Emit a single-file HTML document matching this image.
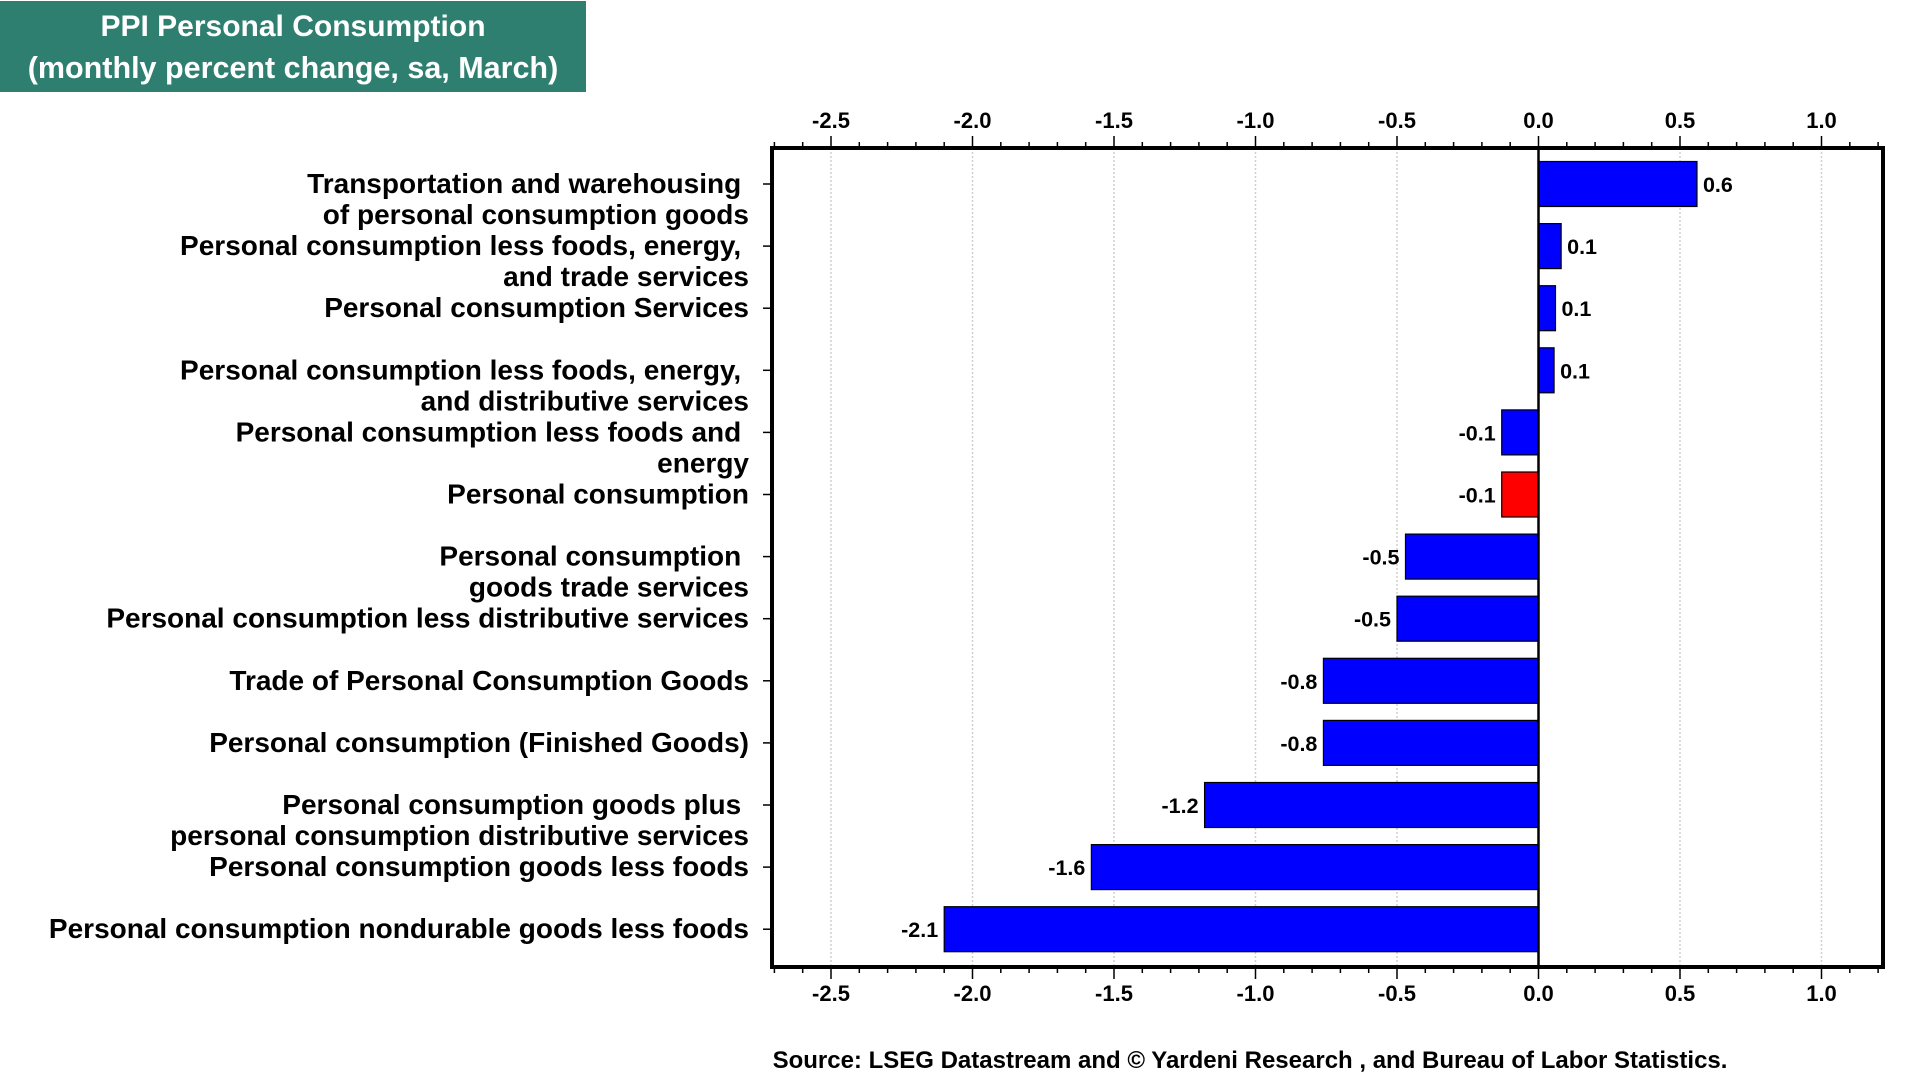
<!DOCTYPE html>
<html><head><meta charset="utf-8"><style>
html,body{margin:0;padding:0;background:#fff;width:1920px;height:1080px;overflow:hidden;font-family:"Liberation Sans",Arial,sans-serif}
text{white-space:pre}
</style></head><body>
<svg width="1920" height="1080" xmlns="http://www.w3.org/2000/svg" id="chart" font-family="Liberation Sans, Arial, sans-serif" font-weight="bold">
<g>
<rect x="0" y="1" width="586" height="91" fill="#2e7f70"/>
<text x="293" y="36" text-anchor="middle" font-size="30" fill="#fff">PPI Personal Consumption</text>
<text x="293" y="78" text-anchor="middle" font-size="30.5" fill="#fff">(monthly percent change, sa, March)</text>
</g>
<g id="grid"></g>
<g id="bars"></g>
<g id="axes"></g>
<text x="1250" y="1068" text-anchor="middle" font-size="24" fill="#000">Source: LSEG Datastream and © Yardeni Research , and Bureau of Labor Statistics.</text>
</svg>
<script>
const categories = [
 ["Transportation and warehousing ","of personal consumption goods"],
 ["Personal consumption less foods, energy, ","and trade services"],
 ["Personal consumption Services"],
 ["Personal consumption less foods, energy, ","and distributive services"],
 ["Personal consumption less foods and ","energy"],
 ["Personal consumption"],
 ["Personal consumption ","goods trade services"],
 ["Personal consumption less distributive services"],
 ["Trade of Personal Consumption Goods"],
 ["Personal consumption (Finished Goods)"],
 ["Personal consumption goods plus ","personal consumption distributive services"],
 ["Personal consumption goods less foods"],
 ["Personal consumption nondurable goods less foods"]
];
const values = [0.56, 0.08, 0.06, 0.055, -0.13, -0.13, -0.47, -0.5, -0.76, -0.76, -1.18, -1.58, -2.1];
const valueLabels = ["0.6","0.1","0.1","0.1","-0.1","-0.1","-0.5","-0.5","-0.8","-0.8","-1.2","-1.6","-2.1"];
const highlight = [false,false,false,false,false,true,false,false,false,false,false,false,false];
const tickValues = [-2.5,-2.0,-1.5,-1.0,-0.5,0.0,0.5,1.0];
const tickLabels = ["-2.5","-2.0","-1.5","-1.0","-0.5","0.0","0.5","1.0"];

const NS="http://www.w3.org/2000/svg";
const L=772,R=1883,T=148,B=967;
const x=v=>1538.5+v*283;
const y=i=>184+i*62.1;
const BH=45;
function mk(tag,attrs,parent){const e=document.createElementNS(NS,tag);for(const k in attrs)e.setAttribute(k,attrs[k]);parent.appendChild(e);return e;}
const grid=document.getElementById('grid'),bars=document.getElementById('bars'),axes=document.getElementById('axes');
tickValues.forEach(v=>{
 const g=mk('line',{x1:x(v),x2:x(v),y1:T,y2:B,stroke:'#cfcfcf','stroke-width':1.5,'stroke-dasharray':'2,2'},grid);
 
 
});
values.forEach((v,i)=>{
 const x0=Math.min(x(0),x(v)),w=Math.abs(x(v)-x(0));
 const r=mk('rect',{x:x0,y:y(i)-BH/2,width:w,height:BH,fill:highlight[i]?'#ff0000':'#0000ff',stroke:'#000','stroke-width':1.2},bars);
 
 
 const t=mk('text',{x:v>=0?x(v)+6:x(v)-6,y:y(i)+8,'font-size':21.5,'text-anchor':v>=0?'start':'end',fill:'#000'},bars);
 t.textContent=valueLabels[i];
 
 
 const lines=categories[i];
 lines.forEach((s,j)=>{
  const c=mk('text',{x:749,y:y(i)+9+j*31,'font-size':28,'text-anchor':'end',fill:'#000'},axes);
  c.textContent=s;
  
  
 });
 mk('line',{x1:L-9,x2:L,y1:y(i),y2:y(i),stroke:'#000','stroke-width':1.5},axes);
});
mk('line',{x1:x(0),x2:x(0),y1:T,y2:B,stroke:'#000','stroke-width':2.5},axes);
for(let k=-27;k<=12;k++){
 const v=k/10;const major=(k%5===0);
 const px=x(v); if(px<L||px>R)continue;
 mk('line',{x1:px,x2:px,y1:T-(major?12:6),y2:T,stroke:'#000','stroke-width':1.5},axes);
 mk('line',{x1:px,x2:px,y1:B,y2:B+(major?12:6),stroke:'#000','stroke-width':1.5},axes);
}
tickValues.forEach((v,i)=>{
 const a=mk('text',{x:x(v),y:128,'font-size':22,'text-anchor':'middle',fill:'#000'},axes);
 a.textContent=tickLabels[i];
 
 
 const b=mk('text',{x:x(v),y:1001,'font-size':22,'text-anchor':'middle',fill:'#000'},axes);
 b.textContent=tickLabels[i];
 
 
});
const fr=mk('rect',{x:L,y:T,width:R-L,height:B-T,fill:'none',stroke:'#000','stroke-width':4},axes);


</script>
</body></html>
